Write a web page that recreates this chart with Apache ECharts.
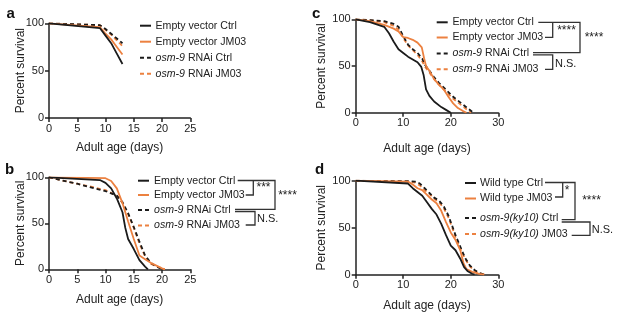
<!DOCTYPE html>
<html>
<head>
<meta charset="utf-8">
<script src="https://cdn.jsdelivr.net/npm/echarts@6/dist/echarts.min.js"></script>
<style>
html, body { margin: 0; padding: 0; background: #fff; }
#chart { width: 617px; height: 320px; }
</style>
</head>
<body>
<div id="chart"></div>
<script>
// survival curves, [day, percent]
const aEvCtrl = [[0,100],[9,95],[10,87],[11,79],[12,68],[13,57]];
const aEvJm03 = [[0,100],[9,96],[10,89],[11,83],[12,75],[13,67]];
const aOsmCtrl = [[0,100],[9,98],[10,94],[11,89],[12,84],[13,79]];
const aOsmJm03 = [[0,100],[9,98],[10,93],[11,88],[12,82],[13,76]];

const bEvCtrl = [[0,100],[9,97],[10,94],[11,88],[12,77],[13,62],[13.5,45],[14,33],[15,22],[16,10],[17,3],[17.5,0]];
const bEvJm03 = [[0,100],[10,99],[11,96],[12,88],[13,72],[14,52],[15,33],[16,15],[17,11],[18,7],[19,4],[20,1],[20.5,0]];
const bOsmCtrl = [[0,100],[2,97],[5,93],[8,88],[10,85],[12,80],[13,73],[14,61],[15,46],[16,30],[17,15],[18,7],[19,3],[20,0]];
const bOsmJm03 = [[0,100],[2,97],[5,93],[8,89],[10,86],[12,80],[13,72],[14,60],[15,45],[16,28],[17,14],[18,6],[19,3],[20.5,0]];

const cEvCtrl = [[0,100],[3,97],[6,92],[7,85],[8,76],[9,68],[10,64],[11,60],[12,57],[13,54],[13.8,49],[14.3,40],[14.8,25],[15.5,18],[16.5,12],[18,6],[19,3],[20,0]];
const cEvJm03 = [[0,100],[3,98],[6,94],[8,90],[9,87],[10,81],[11,80],[12,78],[13,75],[13.9,70],[14.4,58],[14.8,50],[15.5,45],[16.5,36],[17.5,30],[18.5,25],[19.5,17],[20.5,10],[21.5,5],[22.5,2],[23.3,0]];
const cOsmCtrl = [[0,100],[3,99],[6,98],[8,95],[9,92],[10,82],[11,73],[12,68],[13,64],[14,58],[14.6,51],[15.5,45],[16.5,38],[17.5,32],[18.5,27],[19.5,22],[20.5,17],[21.5,13],[22.5,9],[23.5,5],[24.5,1],[25,0]];
const cOsmJm03 = [[0,100],[3,99],[6,97],[8,93],[9,89],[10,80],[11,72],[12,67],[13,62],[14,55],[14.6,49],[15.5,43],[16.5,36],[17.5,30],[18.5,25],[19.5,20],[20.5,15],[21.5,11],[22.5,7],[23.5,3],[24.3,0]];

const dWtCtrl = [[0,100],[11,97],[12,92],[13,88],[14,84],[15,77],[16,70],[17,64],[18,54],[19,42],[20,31],[21,26],[22,17],[22.8,8],[23.5,4],[24.5,1],[25,0]];
const dWtJm03 = [[0,100],[11,99],[12,96],[13,92],[14,90],[15,85],[16,80],[17,76],[18,68],[19,56],[20,45],[21,37],[22,26],[22.7,12],[23.3,6],[24.5,3],[26,1],[27,0]];
const dOsmCtrl = [[0,100],[11,99.5],[12.5,99],[13.5,97],[14.5,92],[15.5,87],[16.5,82],[17.5,79],[18.5,73],[19.5,63],[20.3,52],[21,42],[22,30],[23,18],[24,10],[25,5],[26,2],[27,0]];
const dOsmJm03 = [[0,100],[11,99],[12.5,98],[13.5,95],[14.5,90],[15.5,86],[16.5,81],[17.5,77],[18.5,71],[19.5,61],[20.3,50],[21,40],[22,28],[23,17],[24,9],[25,4],[26,1.5],[27.5,0]];

const namesRnai = ['Empty vector Ctrl', 'Empty vector JM03', '{i|osm-9} RNAi Ctrl', '{i|osm-9} RNAi JM03'];
const namesMut = ['Wild type Ctrl', 'Wild type JM03', '{i|osm-9(ky10)} Ctrl', '{i|osm-9(ky10)} JM03'];
const xMaxes = [25, 25, 30, 30];
const xSteps = [5, 5, 10, 10];
const panelLabels = ['a', 'b', 'c', 'd'];

const FONT = 'Liberation Sans, Arial, Helvetica, sans-serif';
const BLACK = '#1b1b1b';
const ORANGE = '#ec8140';
const INK = '#222';

const grids = [
  { left: 49, top: 23.3, width: 141.3, height: 94.7 },
  { left: 49, top: 177.3, width: 141.3, height: 92 },
  { left: 355.7, top: 19.3, width: 142.6, height: 93.4 },
  { left: 355.7, top: 180.7, width: 142.6, height: 94 }
];
const xNameGaps = [24, 24, 30, 25];
const yNameGaps = [22, 22, 28.5, 28.5];

let xAxis = [], yAxis = [], series = [];
const panelData = [
  [aEvCtrl, aEvJm03, aOsmCtrl, aOsmJm03],
  [bEvCtrl, bEvJm03, bOsmCtrl, bOsmJm03],
  [cEvCtrl, cEvJm03, cOsmCtrl, cOsmJm03],
  [dWtCtrl, dWtJm03, dOsmCtrl, dOsmJm03]
];
const styles = [
  { color: BLACK, type: 'solid' },
  { color: ORANGE, type: 'solid' },
  { color: BLACK, type: [4, 3] },
  { color: ORANGE, type: [4, 3] }
];
const drawOrder = [3, 2, 1, 0];

for (let i = 0; i < 4; i++) {
  xAxis.push({
    type: 'value', gridIndex: i, min: 0, max: xMaxes[i], interval: xSteps[i],
    name: 'Adult age (days)', nameLocation: 'middle', nameGap: xNameGaps[i],
    nameTextStyle: { fontSize: 12, color: INK, fontFamily: FONT },
    axisLine: { show: true, onZero: false, lineStyle: { color: INK, width: 1.5 } },
    axisTick: { show: true, length: 4, lineStyle: { color: INK, width: 1.5 } },
    axisLabel: { fontSize: 11, color: INK, margin: 5, fontFamily: FONT },
    splitLine: { show: false }
  });
  yAxis.push({
    type: 'value', gridIndex: i, min: 0, max: 100, interval: 50,
    name: 'Percent survival', nameLocation: 'middle', nameGap: yNameGaps[i],
    nameMoveOverlap: false,
    nameTextStyle: { fontSize: 12, color: INK, fontFamily: FONT },
    axisLine: { show: true, onZero: false, lineStyle: { color: INK, width: 1.5 } },
    axisTick: { show: true, length: 4, lineStyle: { color: INK, width: 1.5 } },
    axisLabel: { fontSize: 11, color: INK, margin: 5, fontFamily: FONT },
    splitLine: { show: false }
  });
  drawOrder.forEach(k => {
    series.push({
      type: 'line', xAxisIndex: i, yAxisIndex: i,
      data: panelData[i][k],
      symbol: 'none', smooth: false, silent: true,
      lineStyle: { color: styles[k].color, width: 1.8, type: styles[k].type }
    });
  });
}

// legend rows: [sample x, text x, row ys]
const legends = [
  { x: 140, tx: 155.5, rows: [25.7, 41.7, 57.7, 73.7], names: namesRnai },
  { x: 138, tx: 154, rows: [180.7, 195, 210, 225.5], names: namesRnai },
  { x: 436.7, tx: 452.5, rows: [22.3, 37.5, 53.5, 69.3], names: namesRnai },
  { x: 465, tx: 480, rows: [183, 198.5, 218, 234], names: namesMut }
];

let graphic = [];
const txt = (x, y, s, size, extra) => Object.assign({
  type: 'text', x: x, y: y,
  style: Object.assign({
    text: s, fill: INK, fontSize: size, fontFamily: FONT,
    verticalAlign: 'middle', align: 'left',
    rich: { i: { fontStyle: 'italic', fontSize: size, fontFamily: FONT, fill: INK } }
  }, extra || {})
});

legends.forEach(lg => {
  lg.rows.forEach((y, k) => {
    graphic.push({
      type: 'line', shape: { x1: lg.x, y1: y, x2: lg.x + 11, y2: y },
      style: { stroke: styles[k].color, lineWidth: 2, lineDash: k > 1 ? [4, 3] : null }
    });
    graphic.push(txt(lg.tx, y, lg.names[k], 10.6));
  });
});

// significance brackets
const brackets = [
  [[237.7,180.5],[275,180.5],[275,209.3],[235,209.3]],
  [[253.3,180.5],[253.3,195],[245.7,195]],
  [[235,211.5],[255,211.5],[255,225],[245.7,225]],
  [[538.3,22.3],[580,22.3],[580,52.7],[533,52.7]],
  [[552.7,22.3],[552.7,37.3],[545,37.3]],
  [[533,54.9],[552.7,54.9],[552.7,69.3],[545,69.3]],
  [[545,182.5],[575,182.5],[575,219.7],[561.7,219.7]],
  [[562.7,182.5],[562.7,197],[555,197]],
  [[561.7,222],[590,222],[590,235.3],[571.7,235.3]]
];
brackets.forEach(p => graphic.push({
  type: 'polyline', shape: { points: p },
  style: { stroke: '#333', lineWidth: 1.3, fill: null }
}));

const marks = [
  [263.5, 188, '***'], [287.5, 196, '****'], [257, 218.7, 'N.S.'],
  [566.5, 31, '****'], [594, 38, '****'], [555, 63.7, 'N.S.'],
  [567, 191, '*'], [591.5, 201, '****'], [591.7, 230.3, 'N.S.']
];
marks.forEach(m => {
  const isNs = m[2] === 'N.S.';
  graphic.push(txt(m[0], m[1], m[2], isNs ? 11 : 12, { align: isNs ? 'left' : 'center' }));
});

const labelPos = [[6.5, 14], [5, 170], [312, 13.5], [315, 170]];
labelPos.forEach((p, i) => graphic.push(txt(p[0], p[1], panelLabels[i], 15, { fontWeight: 'bold', fill: '#111' })));

const chart = echarts.init(document.getElementById('chart'), null, { renderer: 'canvas' });
chart.setOption({
  animation: false,
  backgroundColor: '#fff',
  grid: grids,
  xAxis: xAxis,
  yAxis: yAxis,
  series: series,
  graphic: graphic
});
</script>
</body>
</html>
